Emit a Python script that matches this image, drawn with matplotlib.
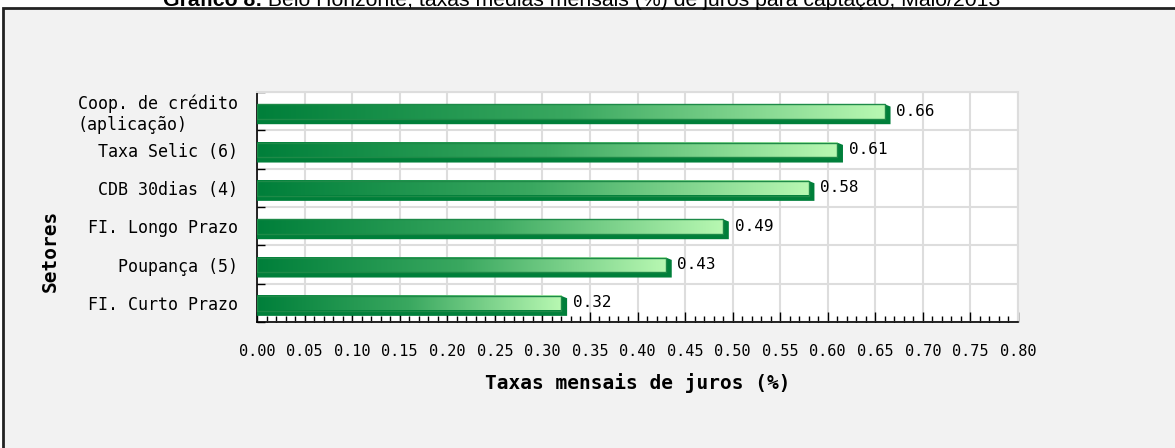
import matplotlib
matplotlib.use("Agg")
import matplotlib.pyplot as plt
import numpy as np
from matplotlib.colors import LinearSegmentedColormap
from matplotlib.patches import Rectangle, Polygon
from matplotlib.ticker import MultipleLocator

# data
setores = ["Coop. de crédito\n(aplicação)", "Taxa Selic (6)", "CDB 30dias (4)",
           "FI. Longo Prazo", "Poupança (5)", "FI. Curto Prazo"]
taxas = [0.66, 0.61, 0.58, 0.49, 0.43, 0.32]
rotulos = ["0.66", "0.61", "0.58", "0.49", "0.43", "0.32"]

titulo_bold = "Gráfico 8:"
titulo_resto = " Belo Horizonte, taxas médias mensais (%) de juros para captação, Maio/2013"

dark = "#007f3a"
light = "#b8f8b2"
cmap = LinearSegmentedColormap.from_list("verde", [dark, "#3aa860", light])
mono = "DejaVu Sans Mono"

fig = plt.figure(figsize=(11.75, 4.48), dpi=100)
fig.patch.set_facecolor("white")

# grey box with dark border
fig.patches.append(Rectangle((3/1175, -0.05), 1.2, 1 - 8/448 + 0.05, transform=fig.transFigure,
                             facecolor="#f2f2f2", edgecolor="#222222", linewidth=2, zorder=-5))

# title (cut at the top like the reference)
t1 = fig.text(163/1175, 1 - 6/448, titulo_bold, fontsize=15.3, fontweight="bold",
              family="Liberation Sans", va="baseline", ha="left")
fig.canvas.draw()
bb = t1.get_window_extent()
fig.text(bb.x1/1175, 1 - 6/448, titulo_resto, fontsize=15.3, family="Liberation Sans",
         va="baseline", ha="left")

ax = fig.add_axes([257/1175, 126/448, 761/1175, 230/448])
ax.set_facecolor("white")

pos = np.arange(len(setores))
dx = 0.006
for i, v in enumerate(taxas):
    top, bot, sh = i - 0.18, i + 0.2, i + 0.34
    ax.add_patch(Polygon([(0, sh), (v + dx, sh), (v + dx, top + 0.06), (v, top), (0, top)],
                         closed=True, facecolor=dark, edgecolor="none", zorder=3))
    ax.imshow(np.linspace(0, 1, 256).reshape(1, -1), cmap=cmap, aspect="auto",
              extent=[0, v, bot, top], zorder=4, interpolation="bilinear")
    ax.add_patch(Rectangle((0, top), v, bot - top, facecolor="none", edgecolor="#1e8a48",
                           linewidth=1, zorder=5))
    ax.text(v + 0.012, i, rotulos[i], fontsize=11.5, family=mono, va="center", ha="left", zorder=6)

ax.set_xlim(0, 0.8)
ax.set_ylim(len(setores) - 0.5, -0.5)

ax.xaxis.set_major_locator(MultipleLocator(0.05))
ax.xaxis.set_minor_locator(MultipleLocator(0.01))
ax.set_xticklabels([f"{x:.2f}" for x in ax.get_xticks()], family=mono, fontsize=11)
ax.set_yticks(pos)
ax.set_yticklabels(setores, family=mono, fontsize=12)
ax.get_yticklabels()[0].set_multialignment("left")
ax.set_yticks(np.arange(-0.5, len(setores), 1), minor=True)

ax.tick_params(axis="x", which="major", direction="in", length=7, width=1, pad=16)
ax.tick_params(axis="x", which="minor", direction="in", length=4, width=1)
ax.tick_params(axis="y", which="major", length=0, pad=14)
ax.tick_params(axis="y", which="minor", direction="in", length=6, width=1)

ax.grid(True, axis="x", which="major", color="#dddddd", linewidth=1.5, zorder=0)
ax.grid(True, axis="y", which="minor", color="#dddddd", linewidth=1.5, zorder=0)
ax.set_axisbelow(True)

for s in ["top", "right"]:
    ax.spines[s].set_color("#dddddd")
    ax.spines[s].set_linewidth(1.5)
for s in ["left", "bottom"]:
    ax.spines[s].set_color("black")
    ax.spines[s].set_linewidth(1.2)

ax.set_xlabel("Taxas mensais de juros (%)", family=mono, fontsize=14, fontweight="bold")
ax.set_ylabel("Setores", family=mono, fontsize=14, fontweight="bold")
ax.xaxis.set_label_coords(0.5, -(383 - 322) / 230, transform=ax.transAxes)
ax.xaxis.label.set_va("center")
ax.yaxis.set_label_coords((50 - 257) / 761, (322 - 251) / 230, transform=ax.transAxes)
ax.yaxis.label.set_va("center")

fig.savefig("out.png", dpi=100)
